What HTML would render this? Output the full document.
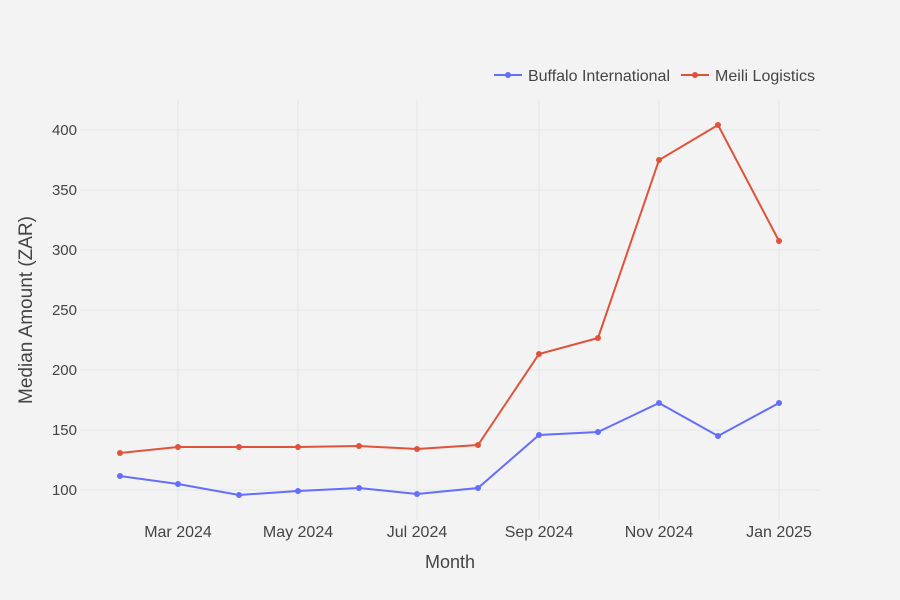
<!DOCTYPE html>
<html><head><meta charset="utf-8"><style>
body{margin:0;background:#f3f3f3;}
svg{display:block;font-family:"Liberation Sans",Arial,sans-serif;}
</style></head><body>
<svg width="900" height="600" xmlns="http://www.w3.org/2000/svg">
<rect width="900" height="600" fill="#f3f3f3"/>
<g stroke="#e2e4ea" stroke-width="1">
<line x1="178" y1="100" x2="178" y2="520"/><line x1="298" y1="100" x2="298" y2="520"/>
<line x1="417" y1="100" x2="417" y2="520"/><line x1="539" y1="100" x2="539" y2="520"/>
<line x1="659" y1="100" x2="659" y2="520"/><line x1="779" y1="100" x2="779" y2="520"/>
<line x1="80" y1="130" x2="820" y2="130"/><line x1="80" y1="190" x2="820" y2="190"/>
<line x1="80" y1="250" x2="820" y2="250"/><line x1="80" y1="310" x2="820" y2="310"/>
<line x1="80" y1="370" x2="820" y2="370"/><line x1="80" y1="430" x2="820" y2="430"/>
<line x1="80" y1="490" x2="820" y2="490"/>
</g>
<g font-size="15" fill="#444" text-anchor="end">
<text x="77" y="135">400</text><text x="77" y="195">350</text><text x="77" y="255">300</text>
<text x="77" y="315">250</text><text x="77" y="375">200</text><text x="77" y="435">150</text>
<text x="77" y="495">100</text>
</g>
<g font-size="16" fill="#444" text-anchor="middle">
<text x="178" y="537">Mar 2024</text><text x="298" y="537">May 2024</text><text x="417" y="537">Jul 2024</text>
<text x="539" y="537">Sep 2024</text><text x="659" y="537">Nov 2024</text><text x="779" y="537">Jan 2025</text>
</g>
<text x="450" y="568" font-size="18" fill="#444" text-anchor="middle">Month</text>
<text transform="translate(32,310) rotate(-90)" font-size="19" fill="#444" text-anchor="middle">Median Amount (ZAR)</text>
<polyline fill="none" stroke="#636efa" stroke-width="2" points="120,476 178,484 239,495 298,491 359,488 417,494 478,488 539,435 598,432 659,403 718,436 779,403"/>
<g fill="#636efa"><circle cx="120" cy="476" r="3"/><circle cx="178" cy="484" r="3"/><circle cx="239" cy="495" r="3"/><circle cx="298" cy="491" r="3"/><circle cx="359" cy="488" r="3"/><circle cx="417" cy="494" r="3"/><circle cx="478" cy="488" r="3"/><circle cx="539" cy="435" r="3"/><circle cx="598" cy="432" r="3"/><circle cx="659" cy="403" r="3"/><circle cx="718" cy="436" r="3"/><circle cx="779" cy="403" r="3"/></g>
<polyline fill="none" stroke="#e0533b" stroke-width="2" points="120,453 178,447 239,447 298,447 359,446 417,449 478,445 539,354 598,338 659,160 718,125 779,241"/>
<g fill="#e0533b"><circle cx="120" cy="453" r="3"/><circle cx="178" cy="447" r="3"/><circle cx="239" cy="447" r="3"/><circle cx="298" cy="447" r="3"/><circle cx="359" cy="446" r="3"/><circle cx="417" cy="449" r="3"/><circle cx="478" cy="445" r="3"/><circle cx="539" cy="354" r="3"/><circle cx="598" cy="338" r="3"/><circle cx="659" cy="160" r="3"/><circle cx="718" cy="125" r="3"/><circle cx="779" cy="241" r="3"/></g>
<line x1="494" y1="75" x2="522" y2="75" stroke="#636efa" stroke-width="2"/><circle cx="508" cy="75" r="3" fill="#636efa"/>
<text x="528" y="81" font-size="16" fill="#444" textLength="142">Buffalo International</text>
<line x1="681" y1="75" x2="709" y2="75" stroke="#e0533b" stroke-width="2"/><circle cx="695" cy="75" r="3" fill="#e0533b"/>
<text x="715" y="81" font-size="16" fill="#444" textLength="100">Meili Logistics</text>
</svg>
</body></html>
